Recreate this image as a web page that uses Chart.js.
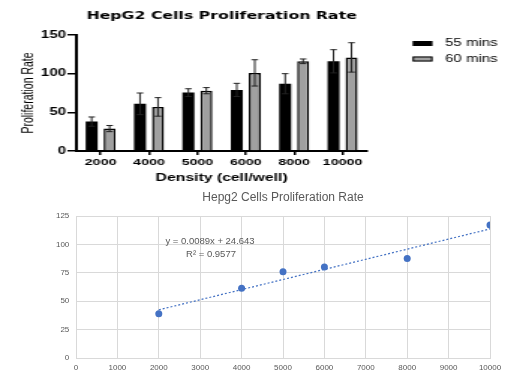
<!DOCTYPE html>
<html><head><meta charset="utf-8">
<script src="https://cdn.jsdelivr.net/npm/chart.js@4.4.0/dist/chart.umd.min.js"></script>
<style>
html,body{margin:0;padding:0;background:#fff;width:520px;height:391px;overflow:hidden;}
#top{position:absolute;left:0;top:0;width:347px;height:190px;transform:scaleX(1.4986);transform-origin:0 0;}
#bot{position:absolute;left:0;top:185px;width:520px;height:206px;}
</style></head><body>
<div id="top"><canvas id="c1" width="347" height="190"></canvas></div>
<div id="bot"><canvas id="c2" width="520" height="206"></canvas></div>
<script>
// ---- Top chart data (bar chart with error bars) ----
const categories = ['2000', '4000', '5000', '6000', '8000', '10000'];
const mins55 = [38, 61, 75.5, 79, 87, 116];
const err55 = [6, 14, 5, 8.5, 13, 15];
const mins60 = [29, 57, 78, 101, 116, 121];
const err60 = [4, 12, 4, 17, 3, 19];
const barTicks = [0, 50, 100, 150];
const seriesLabels = ['55 mins', '60 mins'];

// ---- Bottom chart data (scatter + trendline) ----
const densities = [2000, 4000, 5000, 6000, 8000, 10000];
const rates = [39, 61.5, 76, 80, 87.5, 117];
const trendX = [2000, 10000];
const trendY = [42.4, 113.6];
const scatterXTicks = [0, 1000, 2000, 3000, 4000, 5000, 6000, 7000, 8000, 9000, 10000];
const scatterYTicks = [0, 25, 50, 75, 100, 125];
const equationLines = ['y = 0.0089x + 24.643', 'R\u00B2 = 0.9577'];

const SANS = '"Liberation Sans", Arial, sans-serif';

const errorBars = {
  id: 'errorBars',
  afterDatasetsDraw(chart) {
    const {ctx, scales: {y}} = chart;
    chart.data.datasets.forEach((ds, i) => {
      const meta = chart.getDatasetMeta(i);
      meta.data.forEach((bar, j) => {
        const v = ds.data[j], e = ds.errors[j];
        const yt = y.getPixelForValue(v + e), yb = y.getPixelForValue(v - e);
        ctx.save();
        ctx.strokeStyle = '#222'; ctx.lineWidth = 1;
        ctx.beginPath();
        ctx.moveTo(bar.x, yt); ctx.lineTo(bar.x, yb);
        ctx.moveTo(bar.x - 2.2, yt); ctx.lineTo(bar.x + 2.2, yt);
        ctx.moveTo(bar.x - 2.2, yb); ctx.lineTo(bar.x + 2.2, yb);
        ctx.stroke();
        ctx.restore();
      });
    });
  }
};

const sideLegend = {
  id: 'sideLegend',
  afterDraw(chart) {
    const ctx = chart.ctx;
    chart.data.datasets.forEach((ds, i) => {
      const y0 = 41 + i * 15.5;
      ctx.save();
      ctx.fillStyle = ds.backgroundColor;
      ctx.fillRect(275.3, y0, 13.3, 5);
      if (ds.borderWidth) {
        ctx.strokeStyle = '#000'; ctx.lineWidth = 1;
        ctx.strokeRect(275.8, y0 + 0.5, 12.3, 4);
      }
      ctx.fillStyle = '#000';
      ctx.font = '10px ' + SANS;
      ctx.textBaseline = 'middle';
      ctx.fillText(ds.label, 297, y0 + 2.5);
      ctx.restore();
    });
  }
};

new Chart(document.getElementById('c1'), {
  type: 'bar',
  data: {
    labels: categories,
    datasets: [
      {label: seriesLabels[0], data: mins55, errors: err55, backgroundColor: '#000', borderWidth: 0,
       categoryPercentage: 0.743, barPercentage: 0.667},
      {label: seriesLabels[1], data: mins60, errors: err60, backgroundColor: '#a0a0a0', borderColor: '#000', borderWidth: 1.5,
       categoryPercentage: 0.743, barPercentage: 0.667}
    ]
  },
  plugins: [errorBars, sideLegend],
  options: {
    responsive: false, animation: false, devicePixelRatio: 1,
    layout: {padding: {left: 0, right: 102.3, top: 0, bottom: 0}},
    plugins: {
      legend: {display: false},
      tooltip: {enabled: false},
      title: {display: true, fullSize: false, text: 'HepG2 Cells Proliferation Rate', color: '#000',
        font: {family: '"DejaVu Sans", sans-serif', size: 10.5, weight: 'bold', lineHeight: 1.2},
        padding: {top: 9.7, bottom: 12.7}}
    },
    scales: {
      x: {
        grid: {display: true, drawOnChartArea: false, offset: false, color: '#000', lineWidth: 1.5, tickLength: 4},
        border: {display: true, color: '#000', width: 2},
        ticks: {color: '#000', font: {family: SANS, size: 9.5, weight: 'bold'}, padding: 2,
          maxRotation: 0, minRotation: 0, autoSkip: false},
        title: {display: true, text: 'Density (cell/well)', color: '#000',
          font: {family: SANS, size: 10.5, weight: 'bold', lineHeight: 1.2}, padding: {top: 0, bottom: 5.7}},
        afterFit(s) { s.height = 39; }
      },
      y: {
        min: 0, max: 150,
        afterBuildTicks(s) { s.ticks = barTicks.map(v => ({value: v})); },
        grid: {drawOnChartArea: false, color: '#000', lineWidth: 1.5, tickLength: 6},
        border: {display: true, color: '#000', width: 2},
        ticks: {color: '#000', font: {family: SANS, size: 10, weight: 'bold'}, padding: 1},
        title: {display: true, text: 'Proliferation Rate', color: '#000',
          font: {family: SANS, size: 10.5, lineHeight: 1.2}, padding: {top: 12.4, bottom: 0}},
        afterFit(s) { s.width = 51; }
      }
    }
  }
});

const eqLabel = {
  id: 'eqLabel',
  afterDatasetsDraw(chart) {
    const {ctx, scales: {x, y}} = chart;
    ctx.save();
    ctx.fillStyle = '#595959';
    ctx.font = '9.5px ' + SANS;
    ctx.textAlign = 'center';
    ctx.textBaseline = 'middle';
    const px = x.getPixelForValue(3237);
    ctx.fillText(equationLines[0], px, y.getPixelForValue(102.4));
    ctx.fillText(equationLines[1], px + 1, y.getPixelForValue(91.5));
    ctx.restore();
  }
};

new Chart(document.getElementById('c2'), {
  type: 'scatter',
  data: {
    datasets: [
      {type: 'line', label: 'Linear', data: trendX.map((x, i) => ({x, y: trendY[i]})),
       borderColor: '#4472C4', borderWidth: 1.2, borderDash: [2, 2], pointRadius: 0, fill: false, order: 2},
      {type: 'scatter', label: 'Proliferation Rate', data: densities.map((x, i) => ({x, y: rates[i]})),
       backgroundColor: '#4472C4', borderColor: '#4472C4', borderWidth: 0, pointRadius: 3.5, order: 1}
    ]
  },
  plugins: [eqLabel],
  options: {
    responsive: false, animation: false, devicePixelRatio: 1,
    layout: {padding: {left: 40, right: 30, top: 0, bottom: 0}},
    plugins: {
      legend: {display: false},
      tooltip: {enabled: false},
      title: {display: true, fullSize: false, text: 'Hepg2 Cells Proliferation Rate', color: '#595959',
        font: {family: SANS, size: 12, weight: 'normal', lineHeight: 1.2},
        padding: {top: 5.8, bottom: 10.8}}
    },
    scales: {
      x: {
        type: 'linear', min: 0, max: 10000,
        afterBuildTicks(s) { s.ticks = scatterXTicks.map(v => ({value: v})); },
        grid: {color: '#d9d9d9', drawTicks: false},
        border: {display: true, color: '#d9d9d9'},
        ticks: {color: '#595959', font: {family: SANS, size: 8}, padding: 5, maxRotation: 0, autoSkip: false,
          callback: v => String(v)},
        afterFit(s) { s.height = 33; }
      },
      y: {
        min: 0, max: 125,
        afterBuildTicks(s) { s.ticks = scatterYTicks.map(v => ({value: v})); },
        grid: {color: '#d9d9d9', drawTicks: false},
        border: {display: true, color: '#d9d9d9'},
        ticks: {color: '#595959', font: {family: SANS, size: 8}, padding: 6.7, callback: v => String(v)},
        afterFit(s) { s.width = 36; }
      }
    }
  }
});
</script>
</body></html>
